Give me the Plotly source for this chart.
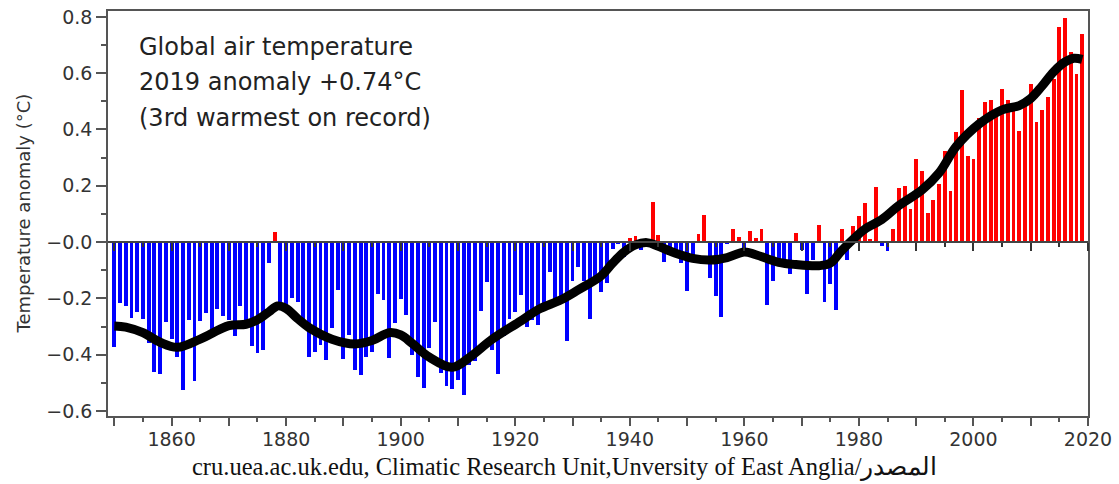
import plotly.graph_objects as go

# Annual global air temperature anomalies (°C), 1850-2019
years = list(range(1850, 2020))
anomaly = [
    -0.373, -0.218, -0.228, -0.269, -0.248, -0.272, -0.358, -0.461, -0.467, -0.284,
    -0.343, -0.407, -0.524, -0.278, -0.494, -0.279, -0.251, -0.321, -0.238, -0.262,
    -0.276, -0.335, -0.227, -0.304, -0.368, -0.395, -0.384, -0.075, 0.035, -0.230,
    -0.227, -0.200, -0.213, -0.296, -0.409, -0.389, -0.367, -0.418, -0.307, -0.171,
    -0.416, -0.330, -0.455, -0.473, -0.410, -0.390, -0.186, -0.206, -0.412, -0.289,
    -0.203, -0.259, -0.402, -0.479, -0.520, -0.377, -0.283, -0.465, -0.511, -0.522,
    -0.490, -0.544, -0.437, -0.424, -0.244, -0.141, -0.383, -0.468, -0.333, -0.275,
    -0.247, -0.187, -0.302, -0.276, -0.294, -0.215, -0.108, -0.210, -0.206, -0.350,
    -0.137, -0.087, -0.137, -0.273, -0.131, -0.178, -0.147, -0.026, -0.006, -0.052,
    0.014, 0.020, -0.027, -0.004, 0.144, 0.025, -0.071, -0.038, -0.039, -0.074,
    -0.173, -0.052, 0.028, 0.097, -0.129, -0.190, -0.267, -0.007, 0.046, 0.017,
    -0.049, 0.038, 0.014, 0.048, -0.223, -0.140, -0.068, -0.074, -0.113, 0.032,
    -0.027, -0.186, -0.065, 0.062, -0.214, -0.149, -0.241, 0.047, -0.062, 0.057,
    0.092, 0.140, 0.011, 0.194, -0.014, -0.030, 0.045, 0.192, 0.198, 0.118,
    0.296, 0.254, 0.105, 0.148, 0.208, 0.325, 0.183, 0.390, 0.539, 0.306,
    0.294, 0.441, 0.496, 0.505, 0.447, 0.545, 0.506, 0.491, 0.395, 0.506,
    0.560, 0.425, 0.470, 0.514, 0.579, 0.763, 0.797, 0.677, 0.597, 0.740,
]

# Smoothed curve (decadal-scale variations)
smooth_years = [
    1850, 1852, 1855, 1858, 1861, 1865, 1870, 1873, 1875, 1877, 1878.5, 1880, 1882,
    1884, 1888, 1892, 1895, 1898, 1900, 1902, 1905, 1909, 1912, 1916, 1921, 1924,
    1928, 1931, 1935, 1937, 1939, 1941, 1943, 1945, 1948, 1951, 1954, 1957, 1960,
    1962, 1966, 1969, 1973, 1975, 1977, 1979, 1981, 1984, 1987, 1991, 1994, 1997,
    2001, 2005, 2008, 2010, 2012, 2014, 2016, 2017.5, 2019,
]
smooth_values = [
    -0.298, -0.302, -0.322, -0.356, -0.374, -0.345, -0.297, -0.292, -0.276, -0.248,
    -0.227, -0.236, -0.272, -0.304, -0.345, -0.362, -0.350, -0.322, -0.330, -0.360,
    -0.409, -0.445, -0.410, -0.345, -0.280, -0.240, -0.205, -0.170, -0.120, -0.075,
    -0.035, -0.010, -0.002, -0.015, -0.040, -0.058, -0.064, -0.055, -0.035, -0.045,
    -0.072, -0.080, -0.084, -0.075, -0.030, 0.010, 0.045, 0.080, 0.130, 0.185,
    0.246, 0.340, 0.420, 0.470, 0.485, 0.510, 0.555, 0.605, 0.640, 0.653, 0.649,
]

x_major = list(range(1850, 2021, 10))
x_labels = [str(v) if v % 20 == 0 else "" for v in x_major]
x_minor = list(range(1855, 2021, 10))
y_major = [-0.6, -0.4, -0.2, 0.0, 0.2, 0.4, 0.6, 0.8]
y_labels = ["\u22120.6", "\u22120.4", "\u22120.2", "\u22120.0", "0.2", "0.4", "0.6", "0.8"]
y_minor = [-0.5, -0.3, -0.1, 0.1, 0.3, 0.5, 0.7]

headline = [
    "Global air temperature",
    "2019 anomaly +0.74\u00b0C",
    "(3rd warmest on record)",
]
source = "cru.uea.ac.uk.edu, Climatic Research Unit,Unversity of East Anglia/\u0627\u0644\u0645\u0635\u062f\u0631"

X_RANGE = [1848.9, 2020.0]
Y_RANGE = [-0.618, 0.821]

W, H = 1119, 484
M = dict(l=108, r=31, t=6, b=68)
plot_w = W - M["l"] - M["r"]
plot_h = H - M["t"] - M["b"]

colors = ["#ff0000" if v > 0 else "#0000ff" for v in anomaly]

fig = go.Figure()
fig.add_trace(go.Bar(
    x=years, y=anomaly, width=0.68,
    marker=dict(color=colors, line=dict(width=0)),
    showlegend=False, hoverinfo="x+y",
))
fig.add_trace(go.Scatter(
    x=smooth_years, y=smooth_values, mode="lines",
    line=dict(color="black", width=9, shape="spline", smoothing=1.0),
    showlegend=False,
))
# carrier trace for the zero-level axis
fig.add_trace(go.Scatter(x=[], y=[], xaxis="x2", yaxis="y", showlegend=False))

tick_font = dict(family="DejaVu Sans, Arial, sans-serif", size=19, color="#333333")
axis_col = "#555555"

zero_pos = (0 - Y_RANGE[0]) / (Y_RANGE[1] - Y_RANGE[0])

fig.update_layout(
    width=W, height=H, margin=M,
    paper_bgcolor="white", plot_bgcolor="white",
    bargap=0,
    xaxis=dict(
        range=X_RANGE, tickmode="array", tickvals=x_major, ticktext=x_labels,
        ticks="outside", ticklen=8, tickwidth=1.5, tickcolor=axis_col,
        ticklabelstandoff=-3,
        minor=dict(tickmode="array", tickvals=x_minor, ticks="outside",
                   ticklen=4, tickwidth=1.5, tickcolor=axis_col),
        showline=True, linecolor=axis_col, linewidth=1.5, mirror=True,
        showgrid=False, zeroline=False,
        tickfont=dict(family="DejaVu Sans, Arial, sans-serif", size=19, color="#333333"),
    ),
    xaxis2=dict(
        range=X_RANGE, overlaying="x", anchor="free", position=zero_pos, side="bottom",
        tickmode="array", tickvals=x_major, ticktext=[""] * len(x_major),
        ticks="outside", ticklen=8, tickwidth=1.5, tickcolor="#333333",
        minor=dict(tickmode="array", tickvals=x_minor, ticks="outside",
                   ticklen=4, tickwidth=1.5, tickcolor="#333333"),
        showline=True, linecolor="#444444", linewidth=1.5,
        showgrid=False, zeroline=False, showticklabels=False,
    ),
    yaxis=dict(
        range=Y_RANGE, tickmode="array", tickvals=y_major, ticktext=y_labels,
        ticks="outside", ticklen=10, tickwidth=1.5, tickcolor=axis_col,
        minor=dict(tickmode="array", tickvals=y_minor, ticks="outside",
                   ticklen=5, tickwidth=1.5, tickcolor=axis_col),
        showline=True, linecolor=axis_col, linewidth=1.5, mirror=True,
        showgrid=False, zeroline=False,
        tickfont=tick_font,
    ),
)

# headline text block inside the plot
for i, line in enumerate(headline):
    fig.add_annotation(
        xref="paper", yref="paper",
        x=(137 - M["l"]) / plot_w, y=(H - M["b"] - (42 + 36 * i)) / plot_h,
        xanchor="left", yanchor="middle", showarrow=False, text=line,
        font=dict(family="DejaVu Sans, Arial, sans-serif", size=24, color="#222222"),
    )

# y-axis title
fig.add_annotation(
    xref="paper", yref="paper",
    x=(23 - M["l"]) / plot_w, y=(H - M["b"] - 211) / plot_h,
    xanchor="center", yanchor="middle", showarrow=False, textangle=-90,
    text="Temperature anomaly (\u00b0C)",
    font=dict(family="DejaVu Sans, Arial, sans-serif", size=18, color="#333333"),
)

# source line
fig.add_annotation(
    xref="paper", yref="paper",
    x=(564 - M["l"]) / plot_w, y=(H - M["b"] - 468) / plot_h,
    xanchor="center", yanchor="middle", showarrow=False, text=source,
    font=dict(family="Liberation Serif, Times New Roman, serif", size=24.5, color="#111111"),
)

fig.write_html("out.html")
